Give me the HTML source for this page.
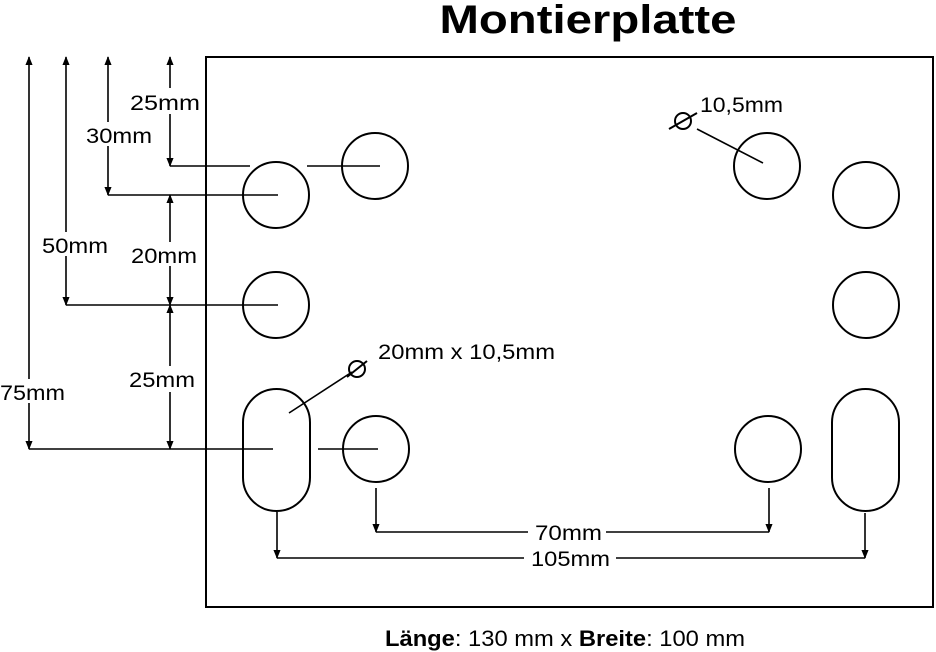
<!DOCTYPE html>
<html><head><meta charset="utf-8"><style>
html,body{margin:0;padding:0;background:#fff;}
svg{display:block;}
text{font-family:"Liberation Sans",Arial,sans-serif;fill:#000;}
</style></head><body>
<svg width="936" height="652" viewBox="0 0 936 652" xmlns="http://www.w3.org/2000/svg">
<defs>
<marker id="a" viewBox="0 0 10 10" refX="9" refY="5" markerWidth="9" markerHeight="9" orient="auto-start-reverse" markerUnits="userSpaceOnUse"><path d="M0,1 L10,5 L0,9 z" fill="#000"/></marker>
</defs>
<text x="588" y="33" font-size="40" font-weight="bold" text-anchor="middle" textLength="297" lengthAdjust="spacingAndGlyphs">Montierplatte</text>
<rect x="206" y="57" width="727" height="550" fill="none" stroke="#000" stroke-width="2"/>
<g fill="none" stroke="#000" stroke-width="2">
<circle cx="276" cy="195" r="33"/>
<circle cx="375" cy="166" r="33"/>
<circle cx="276" cy="305" r="33"/>
<rect x="243" y="389" width="67" height="122" rx="33.5" ry="33.5"/>
<circle cx="376" cy="449" r="33"/>
<circle cx="767" cy="166" r="33"/>
<circle cx="866" cy="195" r="33"/>
<circle cx="866" cy="305" r="33"/>
<circle cx="768" cy="449" r="33"/>
<rect x="832" y="389" width="67" height="122" rx="33.5" ry="33.5"/>
</g>
<g stroke="#000" stroke-width="1.6" fill="none">
<line x1="170" y1="166" x2="250" y2="166"/><line x1="307" y1="166" x2="380" y2="166"/>
<line x1="108" y1="195" x2="278" y2="195"/>
<line x1="66" y1="305" x2="278" y2="305"/>
<line x1="29" y1="449" x2="273" y2="449"/><line x1="318" y1="449" x2="378" y2="449"/>
<line x1="29" y1="57" x2="29" y2="449" marker-start="url(#a)" marker-end="url(#a)"/>
<line x1="66" y1="57" x2="66" y2="305" marker-start="url(#a)" marker-end="url(#a)"/>
<line x1="108" y1="57" x2="108" y2="195" marker-start="url(#a)" marker-end="url(#a)"/>
<line x1="170" y1="57" x2="170" y2="166" marker-start="url(#a)" marker-end="url(#a)"/>
<line x1="170" y1="195" x2="170" y2="305" marker-start="url(#a)" marker-end="url(#a)"/>
<line x1="170" y1="305" x2="170" y2="449" marker-start="url(#a)" marker-end="url(#a)"/>
<line x1="376" y1="488" x2="376" y2="532" marker-end="url(#a)"/>
<line x1="769" y1="488" x2="769" y2="532" marker-end="url(#a)"/>
<line x1="376" y1="532" x2="769" y2="532"/>
<line x1="277" y1="512" x2="277" y2="558" marker-end="url(#a)"/>
<line x1="865" y1="513" x2="865" y2="558" marker-end="url(#a)"/>
<line x1="277" y1="558" x2="865" y2="558"/>
<line x1="289" y1="413" x2="352" y2="372"/>
<line x1="697" y1="129" x2="763" y2="163"/>
</g>
<g stroke="#000" stroke-width="2" fill="none">
<circle cx="357" cy="369" r="8"/><line x1="347" y1="377" x2="367" y2="361"/>
<circle cx="683" cy="121" r="8"/><line x1="669" y1="129" x2="697" y2="113"/>
</g>
<g font-size="21" lengthAdjust="spacingAndGlyphs">
<rect x="128" y="88" width="76" height="26" fill="#fff"/>
<text x="130" y="110" textLength="70" lengthAdjust="spacingAndGlyphs">25mm</text>
<rect x="84" y="122" width="70" height="24" fill="#fff"/>
<text x="86" y="143" textLength="66" lengthAdjust="spacingAndGlyphs">30mm</text>
<rect x="40" y="232" width="70" height="24" fill="#fff"/>
<text x="42" y="253" textLength="66" lengthAdjust="spacingAndGlyphs">50mm</text>
<rect x="129" y="242" width="70" height="24" fill="#fff"/>
<text x="131" y="263" textLength="66" lengthAdjust="spacingAndGlyphs">20mm</text>
<rect x="127" y="366" width="70" height="26" fill="#fff"/>
<text x="129" y="387" textLength="66" lengthAdjust="spacingAndGlyphs">25mm</text>
<rect x="0" y="379" width="67" height="24" fill="#fff"/>
<text x="0" y="400" textLength="65" lengthAdjust="spacingAndGlyphs">75mm</text>
<text x="378" y="359" textLength="177" lengthAdjust="spacingAndGlyphs">20mm x 10,5mm</text>
<text x="700" y="112" textLength="83" lengthAdjust="spacingAndGlyphs">10,5mm</text>
<rect x="528" y="520" width="78" height="22" fill="#fff"/>
<text x="535" y="540" textLength="67" lengthAdjust="spacingAndGlyphs">70mm</text>
<rect x="524" y="546" width="92" height="24" fill="#fff"/>
<text x="531" y="566" textLength="79" lengthAdjust="spacingAndGlyphs">105mm</text>
<text x="385" y="646" font-size="22" textLength="360" lengthAdjust="spacingAndGlyphs"><tspan font-weight="bold">Länge</tspan>: 130 mm x <tspan font-weight="bold">Breite</tspan>: 100 mm</text>
</g>
</svg>
</body></html>
